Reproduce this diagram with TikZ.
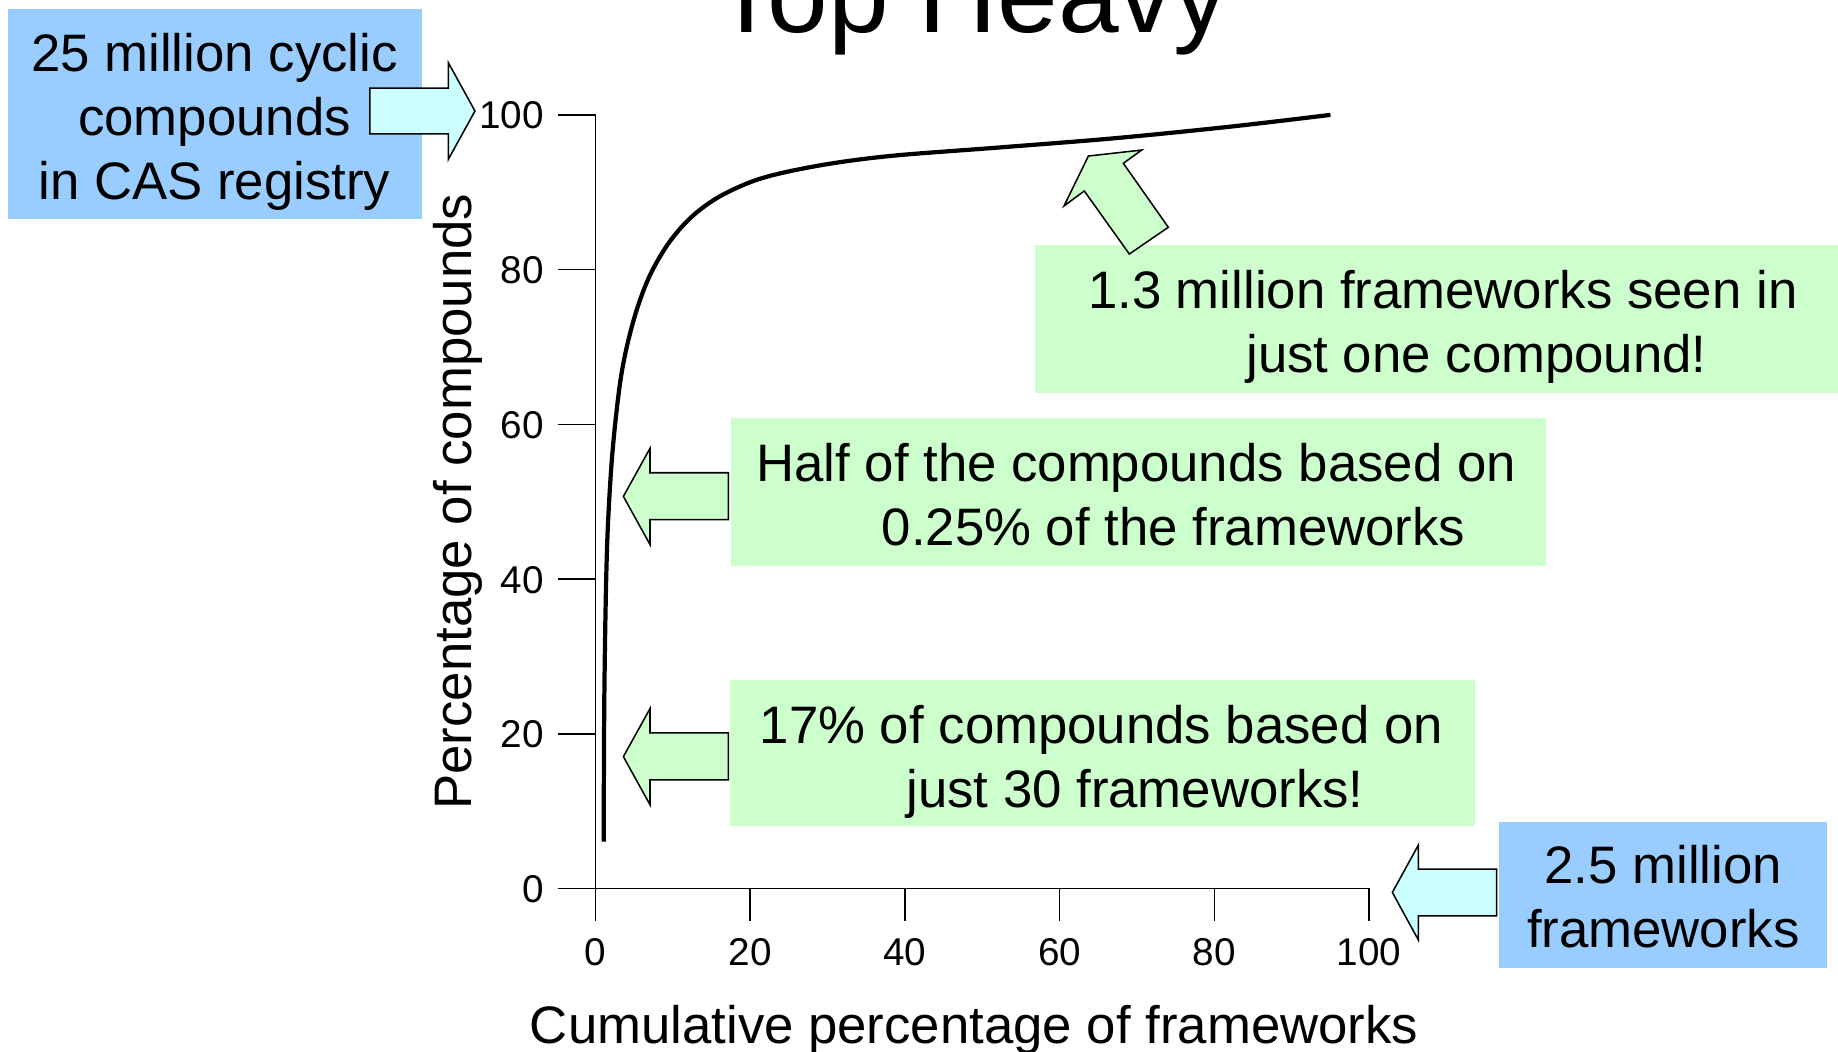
\documentclass[tikz,border=0pt]{standalone}
\usepackage{fontspec}
\setmainfont{Liberation Sans}
\definecolor{boxblue}{HTML}{99CCFF}
\definecolor{boxgreen}{HTML}{CCFFCC}
\definecolor{arrowcyan}{HTML}{CCFFFF}
\begin{document}
\begin{tikzpicture}[x=1pt,y=-1pt,
  axisline/.style={line width=1.3pt, line cap=rect},
  curveline/.style={line width=3.6pt, line cap=butt},
  ticklab/.style={font=\fontsize{33}{40}\selectfont, inner sep=0pt},
  axistitle/.style={font=\fontsize{45}{54}\selectfont, inner sep=0pt},
  boxtext/.style={font=\fontsize{45}{54.5}\selectfont, inner sep=0pt},
  blockarrow/.style={draw=black, line width=1.3pt, line join=miter},
]
\useasboundingbox (0,0) rectangle (1568,897);

% title, running off the top edge
\node[anchor=base, font=\fontsize{93}{105}\selectfont, inner sep=0pt] (title) at (828,28) {Top Heavy};

% axes and ticks
\draw[axisline] (508,98) -- (508,785);
\draw[axisline] (477,758) -- (1168,758);
\foreach \v in {0,20,...,100} {
  \draw[axisline] (477,{758-6.6*\v}) -- (508,{758-6.6*\v});
  \draw[axisline] ({508+6.6*\v},758) -- ({508+6.6*\v},785);
  \node[ticklab, anchor=base east] (ytick\v) at (464,{758-6.6*\v+12}) {\v};
  \node[ticklab, anchor=base] (xtick\v) at ({508+6.6*\v},824) {\v};
}
\node[axistitle, anchor=base] (xtitle) at (831,890) {Cumulative percentage of frameworks};
\node[axistitle, anchor=base, rotate=90] (ytitle) at (402,428) {Percentage of compounds};

% cumulative curve
\draw[curveline] plot[smooth, tension=0.55] coordinates {
  (515,718) (515.5,600) (517,500) (519,440) (523,380) (530,320) (540,275)
  (553,238) (570,208) (590,185) (615,167) (650,152) (700,141) (760,133)
  (850,126) (950,118) (1050,108) (1135,98)};

% callout boxes
\fill[boxblue] (7,8) rectangle (360,187);
\fill[boxgreen] (883,209) rectangle (1568,335);
\fill[boxgreen] (624,357) rectangle (1319,483);
\fill[boxgreen] (623,580) rectangle (1258,705);
\fill[boxblue] (1279,701) rectangle (1559,826);

\node[boxtext, anchor=base] (cas) at (183,61)
  {\begin{tabular}[t]{@{}c@{}}25 million cyclic\\compounds\\in CAS registry\end{tabular}};
\node[boxtext, anchor=base west] (single) at (928,263)
  {\begin{tabular}[t]{@{}l@{}}1.3 million frameworks seen in\\\hspace*{135pt}just one compound!\end{tabular}};
\node[boxtext, anchor=base west] (half) at (645,411)
  {\begin{tabular}[t]{@{}l@{}}Half of the compounds based on\\\hspace*{107pt}0.25\% of the frameworks\end{tabular}};
\node[boxtext, anchor=base west] (few) at (648,634)
  {\begin{tabular}[t]{@{}l@{}}17\% of compounds based on\\\hspace*{125pt}just 30 frameworks!\end{tabular}};
\node[boxtext, anchor=base] (frameworks) at (1419,754)
  {\begin{tabular}[t]{@{}c@{}}2.5 million\\frameworks\end{tabular}};

% block arrows
\draw[blockarrow, fill=arrowcyan] (405.2,94.7) -- (382.5,53.5) -- (382.5,75.1)
  -- (315.6,75.1) -- (315.6,114.3) -- (382.5,114.3) -- (382.5,135.9) -- cycle;
\draw[blockarrow, fill=boxgreen] (531.8,423.5) -- (554.5,382.5) -- (554.5,403.3)
  -- (621.3,403.3) -- (621.3,443.3) -- (554.5,443.3) -- (554.5,464.5) -- cycle;
\draw[blockarrow, fill=boxgreen] (531.8,645.5) -- (554.5,604.5) -- (554.5,625.3)
  -- (621.3,625.3) -- (621.3,665.3) -- (554.5,665.3) -- (554.5,686.5) -- cycle;
\draw[blockarrow, fill=arrowcyan] (1187.8,761.3) -- (1210,720.9) -- (1210,741.4)
  -- (1276.8,741.4) -- (1276.8,781.4) -- (1210,781.4) -- (1210,801.9) -- cycle;
\draw[blockarrow, fill=boxgreen] (928.5,133.1) -- (974.0,128.0) -- (958.3,139.3)
  -- (996.7,193.9) -- (963.4,216.7) -- (925.0,162.9) -- (907.7,175.7) -- cycle;
\end{tikzpicture}
\end{document}
